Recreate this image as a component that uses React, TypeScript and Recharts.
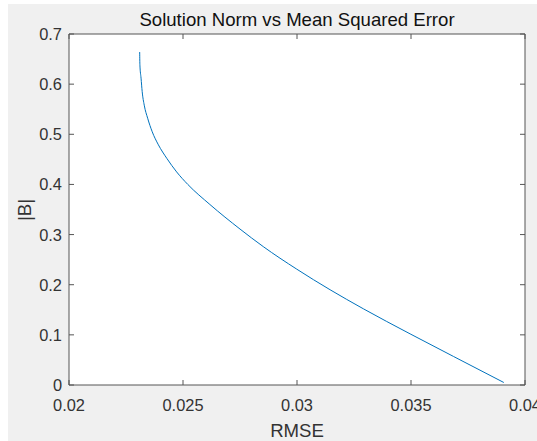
import React from 'react';
import { LineChart, Line, XAxis, YAxis, CartesianGrid } from 'recharts';

// values
const rmse = [
  0.0231, 0.02311, 0.02316, 0.02321, 0.0233, 0.02345, 0.02365, 0.02392, 0.02429,
  0.02472, 0.02521, 0.02618, 0.0275, 0.02852, 0.02999, 0.03145, 0.03291, 0.03496,
  0.03686, 0.03907,
];
const normB = [
  0.664, 0.638, 0.612, 0.585, 0.558, 0.532, 0.505, 0.479, 0.452,
  0.425, 0.4, 0.36, 0.311, 0.276, 0.231, 0.19, 0.152, 0.102,
  0.057, 0.005,
];
const xTicks = [0.02, 0.025, 0.03, 0.035, 0.04];
const yTicks = [0, 0.1, 0.2, 0.3, 0.4, 0.5, 0.6, 0.7];

const FONT = '"Liberation Sans", Arial, Helvetica, sans-serif';
const AXIS = '#555555';
const TEXT = '#333333';
const TICK_LEN = 5;

const data = rmse.map((x, i) => ({ x, y: normB[i] }));

// inward tick marks, MATLAB style
const BottomTick = (props: any) => {
  const { x, y, payload } = props;
  return (
    <g>
      <line x1={x} y1={y} x2={x} y2={y - TICK_LEN} stroke={AXIS} />
      <text x={x} y={y + 26} textAnchor="middle" fill={TEXT} fontSize={16.4} fontFamily={FONT}>
        {String(payload.value)}
      </text>
    </g>
  );
};

const TopTick = (props: any) => {
  const { x, y } = props;
  return <line x1={x} y1={y} x2={x} y2={y + TICK_LEN} stroke={AXIS} />;
};

const LeftTick = (props: any) => {
  const { x, y, payload } = props;
  return (
    <g>
      <line x1={x} y1={y} x2={x + TICK_LEN} y2={y} stroke={AXIS} />
      <text x={x - 7} y={y + 6} textAnchor="end" fill={TEXT} fontSize={16.4} fontFamily={FONT}>
        {String(payload.value)}
      </text>
    </g>
  );
};

const RightTick = (props: any) => {
  const { x, y } = props;
  return <line x1={x} y1={y} x2={x - TICK_LEN} y2={y} stroke={AXIS} />;
};

export default function App() {
  return (
    <div style={{ position: 'absolute', left: 0, top: 0, width: 537, height: 441, background: '#fff', overflow: 'hidden' }}>
      <div style={{ position: 'absolute', left: 8, top: 4, right: 0, bottom: 0, background: '#f0f0f0' }} />
      <div style={{ position: 'absolute', left: 0, top: 0 }}>
        <LineChart width={537} height={441} data={data} margin={{ top: 33, right: 11, bottom: 26, left: 19 }}>
          <CartesianGrid horizontal={false} vertical={false} fill="#ffffff" />
          <XAxis
            xAxisId="bottom"
            dataKey="x"
            type="number"
            domain={[0.02, 0.04]}
            ticks={xTicks}
            height={30}
            tickSize={0}
            tickMargin={0}
            tickLine={false}
            stroke={AXIS}
            tick={<BottomTick />}
            interval={0}
            allowDataOverflow
          />
          <XAxis
            xAxisId="top"
            orientation="top"
            dataKey="x"
            type="number"
            domain={[0.02, 0.04]}
            ticks={xTicks}
            height={1}
            tickSize={0}
            tickMargin={0}
            tickLine={false}
            stroke={AXIS}
            tick={<TopTick />}
            interval={0}
            allowDataOverflow
          />
          <YAxis
            yAxisId="left"
            type="number"
            domain={[0, 0.7]}
            ticks={yTicks}
            width={50}
            tickSize={0}
            tickMargin={0}
            tickLine={false}
            stroke={AXIS}
            tick={<LeftTick />}
            interval={0}
            allowDataOverflow
          />
          <YAxis
            yAxisId="right"
            orientation="right"
            type="number"
            domain={[0, 0.7]}
            ticks={yTicks}
            width={1}
            tickSize={0}
            tickMargin={0}
            tickLine={false}
            stroke={AXIS}
            tick={<RightTick />}
            interval={0}
            allowDataOverflow
          />
          <Line
            xAxisId="bottom"
            yAxisId="left"
            type="monotone"
            dataKey="y"
            stroke="#0072BD"
            strokeWidth={1}
            dot={false}
            isAnimationActive={false}
          />
        </LineChart>
      </div>
      <div
        style={{
          position: 'absolute',
          left: 69,
          width: 456,
          top: 9,
          textAlign: 'center',
          fontFamily: FONT,
          fontSize: 18.6,
          lineHeight: '22px',
          color: '#111',
          whiteSpace: 'nowrap',
        }}
      >
        Solution Norm vs Mean Squared Error
      </div>
      <div
        style={{
          position: 'absolute',
          left: 69,
          width: 456,
          top: 420,
          textAlign: 'center',
          fontFamily: FONT,
          fontSize: 18.6,
          lineHeight: '22px',
          color: TEXT,
        }}
      >
        RMSE
      </div>
      <div
        style={{
          position: 'absolute',
          left: 25,
          top: 210,
          transform: 'translate(-50%, -50%) rotate(-90deg)',
          fontFamily: FONT,
          fontSize: 18.6,
          lineHeight: '22px',
          color: TEXT,
          whiteSpace: 'nowrap',
        }}
      >
        |B|
      </div>
    </div>
  );
}
